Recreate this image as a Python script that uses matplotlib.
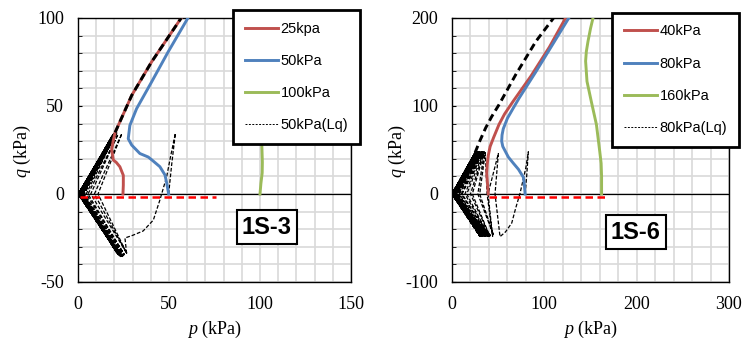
import matplotlib
matplotlib.use("Agg")
import matplotlib.pyplot as plt
from matplotlib.ticker import MultipleLocator
from matplotlib.lines import Line2D

plt.rcParams["mathtext.fontset"] = "custom"
plt.rcParams["mathtext.it"] = "Liberation Serif:italic"
plt.rcParams["mathtext.rm"] = "Liberation Serif"
plt.rcParams["axes.unicode_minus"] = False

RED = "#C0504D"
BLUE = "#4F81BD"
GREEN = "#9BBB59"

# ---- 1S-3 (left) ----
s3_25_p = [24.7, 24.9, 24.9, 23, 21, 19.4, 18.5, 19.3, 20.4, 29.5, 40.4, 56.7]
s3_25_q = [0, 5, 10.6, 15.5, 18, 19.3, 25, 30, 35, 56, 75, 100]
s3_50_p = [49.8, 48.8, 47.8, 45, 41, 38.6, 34, 29.5, 27.6, 28.5, 32.2, 40.4, 49.5, 60.4]
s3_50_q = [0, 6, 10.8, 15.5, 19, 21, 23, 27.8, 31.4, 39, 48.5, 63.6, 80.7, 100]
s3_100_p = [100, 100.5, 101.2, 101.3, 101, 100.8, 100.5]
s3_100_q = [0, 6, 12, 18, 28, 50, 100]
s3_crit_p = [20.4, 29.5, 40.4, 56.7]
s3_crit_q = [35, 56, 75, 100]
s3_base_p = [1.3, 75.7]
s3_base_q = [-1.7, -1.7]

# liquefaction path 50kPa(Lq): first cycle, then cycle peaks
s3_lq_first_p = [49.8, 51.5, 53.5, 51, 48.7, 45, 41.4, 35.8, 30, 25.8, 26.7]
s3_lq_first_q = [0, 17, 34.5, 22, 9.8, -3.4, -14.8, -21, -23.5, -25, -33.6]
s3_up_v = [11, 7, 4.5, 3, 2.5, 2, 1.5, 1.5, 1, 1, 3, 0.5, 2, 0.3, 1.5, 0.2, 2.5, 0.2, 1, 0.1,
           0.5, 1.5, 0.3, 2]
s3_up_p = [24.1, 22, 21, 20.5, 20, 19.5, 19, 20, 18.5, 19.5, 21.5, 19, 17.5, 18.5, 19.5, 18, 20.5,
           17, 18.5, 19.5, 16.5, 21, 18, 20]
s3_up_q = [34.3, 34, 34.5, 33.5, 34, 33, 33.5, 34.5, 32.5, 34, 35, 33, 30, 32, 34, 31.5, 34.5,
           29.5, 32, 34, 28.5, 34.5, 31, 33.5]
s3_dn_v = [9, 5.5, 3.5, 2.5, 2, 1.5, 1, 2.5, 0.5, 1.5, 0.5, 2, 0.3, 1, 0.3, 2.5, 0.2, 1.5, 0.1, 0.5,
           2, 0.3, 1, 0.2]
s3_lo_p = [26.9, 25.5, 25, 24, 23.5, 23, 22.5, 23.5, 22, 23, 21.5, 22.5, 21, 22, 23.5, 21.5, 24.5,
           20.5, 22, 23, 19.5, 24, 21, 22.5]
s3_lo_q = [-33.9, -34.5, -35, -35, -35.5, -34.5, -35, -35.5, -34, -35, -33, -34.5,
           -32.5, -34, -35.5, -33.5, -35.5, -32, -34, -35, -30.5, -35, -33, -34.5]
s3_lq_end_p = [0.2, 20.4]
s3_lq_end_q = [0, 35]

# ---- 1S-6 (right) ----
s6_40_p = [39.3, 38.4, 37.6, 38.2, 39.3, 41.3, 45, 50.9, 57, 66, 85.5, 105.5, 123]
s6_40_q = [0, 12, 23.5, 34, 44, 54, 64, 79, 91, 105, 134, 167, 200]
s6_80_p = [79.2, 78.4, 77.3, 72, 66.4, 61, 58, 55, 53.8, 54.2, 55.5, 60, 66, 72.7, 90.9, 109, 126.5]
s6_80_q = [0, 10, 19, 28, 35, 42, 48, 54, 60, 67, 74, 86, 97, 109, 139, 170, 200]
s6_160_p = [162, 162, 161.5, 160, 156.4, 150.9, 146.2, 144.7, 145.5, 147.3, 150, 152.7]
s6_160_q = [0, 20, 35, 48.5, 79, 105, 128, 151, 162, 173.5, 188, 200]
s6_crit_p = [25, 30, 36.4, 43, 50.9, 69, 90.9, 110]
s6_crit_q = [47, 60, 75, 88, 101.5, 135.6, 173.5, 200]
s6_base_p = [39.6, 165.6]
s6_base_q = [-3, -3]

s6_lq_first_p = [79.2, 81, 82.7, 80, 76.5, 73.7, 69, 64.7, 58, 52]
s6_lq_first_q = [0, 22, 48, 30, 14, 0.8, -16, -33, -43, -48.5]
s6_up_v = [46.6, 38, 28, 20, 14, 10, 7, 5, 4, 3, 2, 1.5, 1, 1, 0.5,
           0.5, 0.5, 0, 0, 0, 0, 0, 0, 0, 0, 0, 0, 0, 0, 0]
s6_up_p = [50.2, 36, 35, 34, 33, 32.5, 32, 31, 30, 29.5, 29, 28, 28, 27, 27,
           26, 26, 25, 25.5, 26.5, 27.5, 28.5, 29.5, 30.5, 31.5, 32.5, 33.5, 34.5, 26, 28]
s6_up_q = [46, 47, 48, 47, 48, 47, 48, 47, 48, 47, 48, 47, 48, 47, 48,
           47, 48, 47, 48, 47, 48, 47, 48, 47, 48, 47, 48, 47, 48, 47]
s6_dn_v = [39, 30, 22, 16, 11, 8, 6, 4.5, 3.5, 2.5, 2, 1.5, 1, 1, 0.5,
           0.5, 0.5, 0, 0, 0, 0, 0, 0, 0, 0, 0, 0, 0, 0, 0]
s6_lo_p = [44, 45, 41, 40, 39, 38, 37, 36, 35.5, 35, 34, 33.5, 33, 32, 31.5,
           31, 30, 30, 31, 32.5, 34, 35.5, 37, 38.5, 40, 41.5, 36, 33, 30.5, 32]
s6_lo_q = [-48, -47, -48, -48, -47, -48, -48, -47, -48, -48, -47, -48, -48, -47, -48,
           -48, -47, -48, -48, -47, -48, -48, -47, -48, -48, -47, -48, -48, -47, -48]
s6_lq_end_p = [0, 25]
s6_lq_end_q = [0, 47]


def lq_path(first_p, first_q, up_v, up_p, up_q, dn_v, lo_p, lo_q, end_p, end_q):
    p = list(first_p)
    q = list(first_q)
    for i in range(len(up_p)):
        p += [up_v[i], up_p[i], dn_v[i], lo_p[i]]
        q += [0, up_q[i], 0, lo_q[i]]
    return p + end_p, q + end_q


fig = plt.figure(figsize=(7.5, 3.4), dpi=100)
ax1 = fig.add_axes([78 / 750, 58 / 340, 273 / 750, 264 / 340])
ax2 = fig.add_axes([452 / 750, 58 / 340, 277 / 750, 264 / 340])

lw = 2.1
lq_style = dict(color="black", lw=0.9, linestyle=(0, (3, 1.5)))


def style_axis(ax, xmax, ymin, ymax, xmaj, ymaj, minor):
    ax.set_xlim(0, xmax)
    ax.set_ylim(ymin, ymax)
    ax.xaxis.set_major_locator(MultipleLocator(xmaj))
    ax.yaxis.set_major_locator(MultipleLocator(ymaj))
    ax.xaxis.set_minor_locator(MultipleLocator(minor))
    ax.yaxis.set_minor_locator(MultipleLocator(minor))
    ax.grid(True, which="both", color="#D9D9D9", lw=1.2, zorder=0)
    ax.set_axisbelow(True)
    ax.axhline(0, color="black", lw=0.9, zorder=1.5)
    ax.tick_params(axis="x", which="both", length=0, pad=10, labelsize=13)
    ax.tick_params(axis="y", which="both", direction="in", length=3, pad=10,
                   labelsize=13, color="black")
    for lab in ax.get_xticklabels() + ax.get_yticklabels():
        lab.set_fontfamily("Liberation Serif")
    for s in ax.spines.values():
        s.set_color("black")
        s.set_linewidth(1.0)


style_axis(ax1, 150, -50, 100, 50, 50, 10)
style_axis(ax2, 300, -100, 200, 100, 100, 20)

# left panel
lp, lq = lq_path(s3_lq_first_p, s3_lq_first_q, s3_up_v, s3_up_p, s3_up_q,
                 s3_dn_v, s3_lo_p, s3_lo_q, s3_lq_end_p, s3_lq_end_q)
ax1.plot(lp, lq, **lq_style, zorder=2)
ax1.plot(s3_25_p, s3_25_q, color=RED, lw=lw, zorder=3)
ax1.plot(s3_50_p, s3_50_q, color=BLUE, lw=lw, zorder=3)
ax1.plot(s3_100_p, s3_100_q, color=GREEN, lw=lw, zorder=3)
ax1.plot(s3_crit_p, s3_crit_q, color="black", lw=2.1, linestyle=(0, (2.5, 1.5)), zorder=4)
ax1.plot(s3_base_p, s3_base_q, color="#FF0000", lw=1.8, linestyle=(0, (3, 1.8)), zorder=4)

# right panel
rp, rq = lq_path(s6_lq_first_p, s6_lq_first_q, s6_up_v, s6_up_p, s6_up_q,
                 s6_dn_v, s6_lo_p, s6_lo_q, s6_lq_end_p, s6_lq_end_q)
ax2.plot(rp, rq, **lq_style, zorder=2)
ax2.plot(s6_40_p, s6_40_q, color=RED, lw=lw, zorder=3)
ax2.plot(s6_80_p, s6_80_q, color=BLUE, lw=lw, zorder=3)
ax2.plot(s6_160_p, s6_160_q, color=GREEN, lw=lw, zorder=3)
ax2.plot(s6_crit_p, s6_crit_q, color="black", lw=2.1, linestyle=(0, (2.5, 1.5)), zorder=4)
ax2.plot(s6_base_p, s6_base_q, color="#FF0000", lw=1.8, linestyle=(0, (3, 1.8)), zorder=4)


def add_legend(ax, labels, anchor):
    handles = [Line2D([], [], color=RED, lw=lw),
               Line2D([], [], color=BLUE, lw=lw),
               Line2D([], [], color=GREEN, lw=lw),
               Line2D([], [], color="black", lw=0.7, linestyle=(0, (2, 1.5)))]
    leg = ax.legend(handles, labels, loc="upper left", bbox_to_anchor=anchor,
                    borderaxespad=0, borderpad=0.8, labelspacing=1.25,
                    handlelength=2.3, handletextpad=0.15, fancybox=False,
                    framealpha=1, edgecolor="black",
                    prop={"family": "Liberation Sans", "size": 10.5})
    leg.get_frame().set_linewidth(2)
    leg.set_zorder(10)


add_legend(ax1, ["25kpa", "50kPa", "100kPa", "50kPa(Lq)"], (0.568, 1.03))
add_legend(ax2, ["40kPa", "80kPa", "160kPa", "80kPa(Lq)"], (0.578, 1.02))

box = dict(boxstyle="square,pad=0.22", fc="white", ec="black", lw=1.5)
ax1.text(0.692, 0.208, "1S-3", transform=ax1.transAxes, ha="center", va="center",
         fontsize=17, fontweight="bold", family="Liberation Sans", bbox=box, zorder=9)
ax2.text(0.664, 0.189, "1S-6", transform=ax2.transAxes, ha="center", va="center",
         fontsize=17, fontweight="bold", family="Liberation Sans", bbox=box, zorder=9)

for xc in (214.5, 590.5):
    fig.text(xc / 750, 1 - 329 / 340, "$p$ (kPa)", ha="center", va="center",
             fontsize=13, family="Liberation Serif")
for xc in (22, 397):
    fig.text(xc / 750, 1 - 151 / 340, "$q$ (kPa)", ha="center", va="center",
             rotation=90, fontsize=13, family="Liberation Serif")

fig.savefig("out.png", dpi=100)
